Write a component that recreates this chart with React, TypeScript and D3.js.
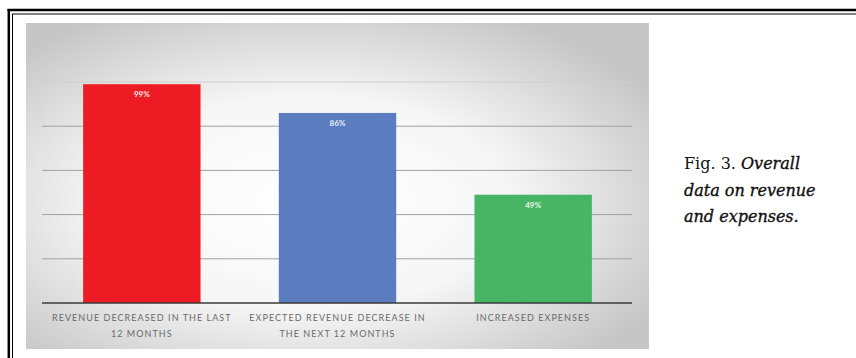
import React from "react";
import * as d3 from "d3";

const categories = [
  ["REVENUE DECREASED IN THE LAST", "12 MONTHS"],
  ["EXPECTED REVENUE DECREASE IN", "THE NEXT 12 MONTHS"],
  ["INCREASED EXPENSES"],
];
const values = [99, 86, 49];
const colors = ["#ed1c24", "#5b7dbf", "#47b563"];
const gridTicks = [0, 20, 40, 60, 80, 100];

export default function App() {
  const W = 856, H = 358;
  const bg = { x0: 26, x1: 649, y0: 23, y1: 349 };
  const plot = { left: 42, right: 632, top: 82, bottom: 303 };
  const x = d3.scaleBand<number>().domain(d3.range(values.length)).range([plot.left + 2, plot.right - 1]).paddingInner(0.4).paddingOuter(0.2);
  const y = d3.scaleLinear().domain([0, 100]).range([plot.bottom, plot.top]);
  const cat = "Lato, 'Open Sans', sans-serif";
  return (
    <svg width={W} height={H} style={{ position: "absolute", left: 0, top: 0 }}>
      <defs>
        <radialGradient id="bgGrad" cx="0.45" cy="0.55" r="0.65">
          <stop offset="0" stopColor="#ffffff" />
          <stop offset="0.5" stopColor="#f6f6f6" />
          <stop offset="1" stopColor="#c6c6c6" />
        </radialGradient>
      </defs>
      <rect x={0} y={0} width={W} height={H} fill="#fff" />
      {/* frame */}
      <line x1={7.5} x2={W} y1={10} y2={10} stroke="#000" strokeWidth={2.5} />
      <line x1={12} x2={W} y1={14} y2={14} stroke="#000" strokeWidth={1} />
      <line x1={8.8} x2={8.8} y1={9} y2={H} stroke="#000" strokeWidth={2.5} />
      <line x1={12.5} x2={12.5} y1={14} y2={H} stroke="#000" strokeWidth={1} />
      {/* chart background */}
      <rect x={bg.x0} y={bg.y0} width={bg.x1 - bg.x0} height={bg.y1 - bg.y0} fill="url(#bgGrad)" />
      {gridTicks.slice(1).map((t) => (
        <line key={t} x1={plot.left} x2={plot.right} y1={y(t)} y2={y(t)} stroke={t === 100 ? "#cfcfcf" : "#a0a0a0"} strokeWidth={1} />
      ))}
      {values.map((v, i) => (
        <g key={i}>
          <rect x={x(i)} y={y(v)} width={x.bandwidth()} height={y(0) - y(v)} fill={colors[i]} />
          <text x={(x(i) as number) + x.bandwidth() / 2} y={y(v) + 13} textAnchor="middle" fontFamily={cat} fontWeight={900} fontSize={8} fill="#fff" opacity={0.8}>
            {v}%
          </text>
        </g>
      ))}
      <line x1={plot.left} x2={plot.right} y1={y(0)} y2={y(0)} stroke="#3a3a3a" strokeWidth={1.5} />
      {categories.map((lines, i) => (
        <text key={i} x={(x(i) as number) + x.bandwidth() / 2} y={321} textAnchor="middle" fontFamily={cat} fontSize={9} letterSpacing={1.05} fill="#6a6a6a">
          {lines.map((l, j) => (
            <tspan key={j} x={(x(i) as number) + x.bandwidth() / 2} dy={j === 0 ? 0 : 16}>{l}</tspan>
          ))}
        </text>
      ))}
      {/* caption */}
      <g fontFamily="'DejaVu Serif', 'Liberation Serif', serif" fontSize={16} fill="#111">
        <text x={684} y={169}>Fig. 3. <tspan fontStyle="italic" stroke="#111" strokeWidth={0.35}>Overall</tspan></text>
        <text x={684} y={196} fontStyle="italic" stroke="#111" strokeWidth={0.35}>data on revenue</text>
        <text x={684} y={222} fontStyle="italic" stroke="#111" strokeWidth={0.35}>and expenses.</text>
      </g>
    </svg>
  );
}
